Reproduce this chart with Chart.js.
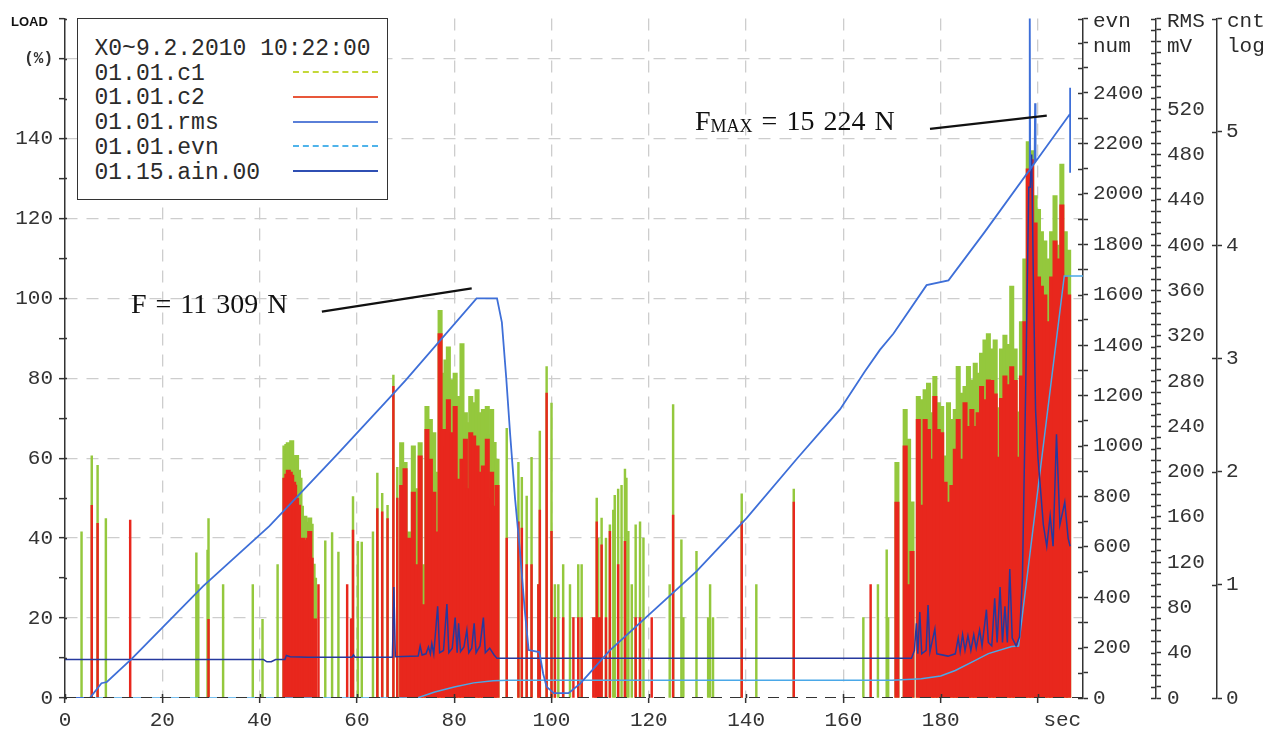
<!DOCTYPE html>
<html>
<head>
<meta charset="utf-8">
<title>LOAD / AE channels</title>
<script src="https://cdn.jsdelivr.net/npm/chart.js@4.4.1/dist/chart.umd.min.js"></script>
<style>
  html, body { margin: 0; padding: 0; background: #fff; }
  #wrap { position: relative; width: 1282px; height: 733px; }
  #wrap canvas { position: absolute; left: 0; top: 0; }
  .mono { font-family: 'Liberation Mono', 'DejaVu Sans Mono', monospace; color: #2b2b2b; }
  .serif { font-family: 'Liberation Serif', 'DejaVu Serif', serif; color: #111; }
  #legendBox { position: absolute; left: 77px; top: 18px; width: 311px; height: 182px; box-sizing: border-box;
               border: 1.5px solid #333; background: #fff; }
  .lgRow { position: absolute; left: 16.5px; font-size: 23px; line-height: 24.7px; white-space: pre; }
  .lgSample { position: absolute; left: 214.5px; width: 85px; height: 0; }
  .axTitle { position: absolute; top: 8.5px; font-size: 21px; line-height: 25px; }
  #loadTitle { position: absolute; left: 11px; top: 15px; font: bold 13px 'Liberation Sans', Arial, sans-serif; line-height: 13px; color: #111; }
  .note { position: absolute; font-size: 28px; line-height: 28px; word-spacing: 2px; white-space: pre; }
  .note sub { font-size: 18px; vertical-align: -2px; line-height: 0; }
</style>
</head>
<body>
<div id="wrap">
  <canvas id="aeChart" width="1282" height="733"></canvas>
  <div id="loadTitle">LOAD</div>
  <div class="axTitle mono" style="left:1093px">evn<br>num</div>
  <div class="axTitle mono" style="left:1167px">RMS<br>mV</div>
  <div class="axTitle mono" style="left:1227px">cnt<br>log</div>
  <div class="note serif" style="left:131px; top:290px">F = 11 309 N</div>
  <div class="note serif" style="left:695px; top:107px">F<sub>MAX</sub> = 15 224 N</div>
  <div id="legendBox"><div class="lgRow mono" style="top:18px">X0~9.2.2010 10:22:00</div></div>
</div>
<script>
// ---- axis ticks -----------------------------------------------------------
const secTicks = [0, 20, 40, 60, 80, 100, 120, 140, 160, 180, 200];
const secUnitAt = 205;      // where the "sec" unit label sits
const secMax = 209.25;
const loadMax = 170;
const evnMax = 2695;
const rmsMax = 600;
const cntMax = 6;

// ---- 01.01.c1 (green) single hits, % --------------------------------------
const c1Sec = [3.4, 5.5, 6.7, 8.4, 27.0, 27.4, 29.3, 29.5, 32.5, 38.6, 40.6, 43.7, 53.5, 54.9, 56.2, 59.2,
  60.2, 61.0, 63.3, 64.2, 65.2, 66.3, 67.5, 68.3, 90.8, 93.2, 93.9, 94.9, 95.9, 97.3, 97.6, 99.0,
  100.0, 100.7, 101.4, 102.4, 103.8, 105.5, 106.2, 109.3, 109.6, 110.3, 111.2, 112.0, 112.7, 113.0,
  113.7, 114.4, 115.1, 115.4, 115.8, 116.5, 117.3, 118.2, 118.9, 124.3, 125.0, 126.7, 127.1, 129.8,
  132.2, 132.6, 133.2, 139.1, 142.1, 149.8, 164.1, 167.1, 168.9, 169.2];
const c1Pct = [41.6, 60.6, 58.2, 44.9, 36.3, 28.4, 37.0, 44.9, 28.4, 28.4, 19.7, 33.4, 39.3, 41.4, 36.5, 50.4,
  39.2, 39.0, 41.6, 56.3, 51.2, 48.2, 80.8, 57.7, 67.5, 59.0, 55.2, 50.5, 60.2, 28.4, 66.8, 82.9,
  73.8, 28.4, 28.4, 33.4, 28.4, 33.4, 33.4, 50.0, 40.0, 45.0, 40.0, 43.3, 47.0, 50.7,
  52.3, 53.2, 57.3, 55.0, 41.7, 28.4, 43.3, 44.1, 40.0, 28.4, 73.4, 39.6, 20.1, 36.7,
  20.1, 28.4, 20.1, 51.1, 28.4, 52.3, 20.1, 28.4, 37.1, 20.1];

// ---- 01.01.c2 (red) single hits, % ----------------------------------------
const c2Sec = [5.5, 6.7, 13.4, 29.5, 52.1, 58.0, 58.8, 59.0, 59.2, 64.2, 65.2, 66.3, 67.5, 68.3, 90.8, 93.2,
  93.9, 94.9, 95.9, 97.3, 97.6, 99.0, 100.0, 100.7, 102.4, 104.5, 105.5, 106.2, 108.6, 109.0, 109.3,
  109.6, 110.0, 110.3, 111.2, 112.0, 113.7, 115.1, 117.3, 118.2, 120.6, 125.0, 139.1, 149.8, 165.6];
const c2Pct = [48.2, 43.7, 44.5, 19.7, 28.4, 28.4, 19.8, 19.8, 42.0, 47.4, 46.6, 44.9, 78.0, 50.0, 40.0, 44.1,
  42.5, 33.4, 33.4, 28.4, 47.0, 76.3, 41.7, 20.1, 20.1, 20.1, 20.1, 20.1, 20.1, 20.1, 44.1,
  20.1, 20.1, 38.3, 20.1, 41.7, 33.4, 39.2, 20.1, 20.1, 20.1, 45.8, 44.1, 49.0, 28.4];

// ---- dense bursts (c1 and c2 share the sample times), % -------------------
const burstSec = [45.2, 45.6, 45.9, 46.3, 46.6, 47.0, 47.2, 47.6, 48.0, 48.3, 48.6, 48.9, 49.3, 49.6, 50.0, 50.3, 50.6, 51.0, 51.3,
  69.2, 69.9, 70.8, 71.6, 72.3, 73.0, 73.6, 74.4, 75.1, 75.8, 76.4, 77.1, 77.8, 78.3, 78.8, 79.5, 80.2, 80.9, 81.6, 82.3,
  82.9, 83.4, 84.0, 84.7, 85.3, 86.0, 86.8, 87.2, 87.7, 88.2, 88.8,
  171.0, 172.7, 173.4, 174.1, 175.4, 176.1, 176.8, 177.5, 178.2, 178.8, 179.5, 180.2, 180.9, 181.6, 182.3, 183.0,
  183.6, 184.3, 185.0, 185.7, 186.4, 187.1, 187.7, 188.4, 189.1, 189.8, 190.5, 191.2, 191.8, 192.5, 193.2, 193.9,
  194.6, 195.3, 195.9, 196.6, 197.3, 198.0, 198.7, 199.4, 200.1, 200.7, 201.4, 202.1, 202.8, 203.5, 204.2, 204.9,
  205.6, 206.3];
const c1BurstPct = [63.1, 63.5, 63.9, 62.0, 64.4, 60.0, 58.2, 60.7, 57.0, 55.0, 48.0, 45.1, 45.5, 42.6, 44.0, 45.1, 43.5, 33.5, 30.0,
  63.9, 59.0, 41.6, 63.1, 52.4, 63.9, 33.4, 73.0, 69.7, 66.4, 56.5, 97.0, 81.3, 84.6, 87.9, 79.7, 81.3, 75.5, 88.7, 71.4,
  68.9, 75.5, 73.9, 77.2, 71.4, 72.2, 73.0, 66.0, 72.2, 64.0, 59.8,
  59.0, 72.2, 64.8, 49.1, 75.5, 74.7, 77.2, 78.8, 71.4, 80.5, 73.9, 73.0, 60.6, 73.9, 69.7, 72.2,
  83.0, 76.3, 78.0, 83.0, 79.6, 83.8, 81.3, 86.3, 89.6, 91.2, 87.4, 89.6, 72.7, 87.4, 90.8, 88.5,
  103.1, 87.4, 71.6, 94.2, 109.9, 139.2, 137.0, 125.7, 122.3, 116.7, 114.4, 109.9, 116.7, 125.7, 113.3, 133.6,
  116.7, 112.1];
const c2BurstPct = [55.0, 56.0, 57.0, 56.5, 55.8, 54.0, 53.3, 50.0, 48.3, 33.4, 38.0, 40.0, 39.5, 39.2, 40.0, 41.7, 35.0, 19.4, 19.8,
  53.2, 57.4, 40.0, 51.5, 33.4, 60.6, 23.4, 67.2, 59.8, 51.5, 41.6, 91.2, 67.2, 63.0, 74.7, 66.4, 73.0, 54.8, 59.8, 64.8,
  52.4, 66.4, 65.6, 63.1, 56.5, 58.1, 64.8, 50.0, 56.5, 48.0, 53.2,
  49.0, 63.1, 28.4, 36.7, 69.7, 48.3, 69.7, 67.2, 59.8, 75.5, 67.2, 66.4, 54.0, 49.0, 53.2, 62.3,
  69.7, 59.8, 73.9, 68.0, 72.2, 68.0, 71.4, 78.0, 74.7, 79.6, 79.5, 76.1, 60.3, 75.0, 80.6, 78.4,
  82.9, 79.5, 60.3, 80.6, 94.2, 132.4, 134.7, 118.9, 105.4, 103.1, 100.9, 94.2, 105.4, 114.4, 109.9, 123.4,
  105.4, 100.9];

// ---- 01.15.ain.00 (load ramp), % ------------------------------------------
const ainSec = [0, 5.1, 7.5, 8.6, 13.7, 28.4, 42.0, 56.0, 65.8, 70.0, 84.6, 88.8, 89.8, 90.7, 91.5,
  92.5, 93.5, 94.5, 95.3, 97.5, 98.3, 99.0, 100.5, 103.5, 105.9, 112.0, 129.8, 140.1, 150.4, 159.3,
  164.4, 167.5, 170.3, 177.1, 181.6, 189.1, 198.2, 198.3, 198.4, 199.3, 199.4, 199.5, 206.6, 206.6, 206.6];
const ainPct = [0, 0, 3.7, 4.0, 9.8, 28.0, 43.0, 61.0, 73.9, 79.5, 100.0, 100.0, 94.0, 80.0, 66.0,
  50.0, 37.0, 22.0, 12.0, 11.5, 6.0, 2.8, 1.2, 1.2, 3.6, 11.9, 31.7, 45.0, 59.8, 72.2,
  81.7, 87.1, 91.2, 103.3, 104.5, 116.7, 132.0, 175.0, 132.3, 133.9, 148.8, 134.2, 146.2, 152.7, 131.4];

// ---- 01.01.rms, mV ---------------------------------------------------------
const rmsSec = [0, 40.8, 41.5, 42.4, 43.3, 45.2, 45.5, 46.3, 50.0, 59.0,
  59.3, 59.6, 67.3, 67.6, 67.9, 72.6, 73.0, 73.4, 74.2, 74.7,
  75.1, 75.4, 75.8, 76.6, 77.0, 77.8, 78.5, 78.9, 79.6, 80.2,
  80.6, 80.9, 81.3, 82.0, 82.6, 83.0, 83.6, 84.1, 84.5, 85.3,
  86.0, 86.4, 87.3, 88.2, 88.8, 174.0, 174.6, 175.0, 175.3, 175.7,
  176.1, 177.0, 177.4, 177.8, 178.8, 179.2, 181.5, 183.0, 183.6, 184.0,
  184.5, 185.0, 185.6, 186.2, 186.8, 187.3, 188.0, 188.5, 189.4, 189.8,
  190.5, 191.1, 191.6, 192.2, 192.7, 193.2, 193.7, 194.2, 194.7, 195.5,
  196.2, 196.8, 197.5, 198.1, 198.4, 198.7, 199.1, 199.5, 200.0, 201.1,
  201.8, 202.5, 203.1, 203.8, 204.5, 205.5, 206.2, 206.6];
const rmsMv = [34, 34, 32, 32, 34, 34, 37.5, 36.5, 36, 36,
  38, 36, 36, 98, 36.5, 37, 46, 38, 39, 45,
  39, 48, 39, 81, 40, 42, 83, 40, 44, 71,
  40, 66, 41, 45, 60, 40, 44, 66, 40, 46,
  71, 40, 44, 38, 35, 35, 42, 66, 39, 76,
  39, 42, 82, 41, 61, 39, 37, 39, 53, 41,
  56, 42, 55, 42, 56, 44, 60, 46, 78, 49,
  46, 88, 49, 98, 49, 81, 49, 114, 53, 46,
  54, 106, 282, 451, 451, 480, 353, 254, 212, 153,
  134, 161, 134, 233, 153, 173, 141, 134];

// ---- 01.01.evn, cumulative events -----------------------------------------
const evnSec = [0, 72.4, 76.0, 80.0, 84.0, 88.0, 91.0, 170.0, 176.0, 180.0, 183.0, 186.5, 189.8, 194.6, 196.0, 205.4, 209.25];
const evnNum = [0, 0, 24, 44, 60, 68, 70, 70, 76, 87, 109, 143, 176, 204, 206, 1674, 1674];

// ---- zero line and the two callout leaders --------------------------------
const zeroSec = [0, 209.25];
const zeroPct = [0, 0];
const fLeaderSec = [52.8, 83.6];
const fLeaderPct = [96.7, 102.5];
const fMaxLeaderSec = [177.8, 201.8];
const fMaxLeaderPct = [142.4, 145.7];

const MONO = "'Liberation Mono', 'DejaVu Sans Mono', monospace";
const AXIS = '#333';
const GRID = '#cdcdcd';
const NONE = 'rgba(0,0,0,0)';

const pts = (xs, ys) => xs.map((x, i) => ({ x: x, y: ys[i] }));

// draws the short inner half of each tick so they cross the axis lines
const crossTicks = {
    id: 'crossTicks',
    afterDraw(chart) {
        const ctx = chart.ctx;
        ctx.save();
        ctx.strokeStyle = AXIS;
        ctx.lineWidth = 1.5;
        const inner = { y: 2, evn: 5, rms: 5, cnt: 5 };
        Object.keys(inner).forEach(id => {
            const s = chart.scales[id];
            const x0 = s.position === 'left' ? s.right : s.left;
            const dir = s.position === 'left' ? 1 : -1;
            s.ticks.forEach(t => {
                const py = Math.round(s.getPixelForValue(t.value)) + 0.5;
                ctx.beginPath();
                ctx.moveTo(x0, py);
                ctx.lineTo(x0 + dir * inner[id], py);
                ctx.stroke();
            });
        });
        const sx = chart.scales.x;
        sx.ticks.forEach(t => {
            if (t.value === secUnitAt) return;
            const px = Math.round(sx.getPixelForValue(t.value)) + 0.5;
            ctx.beginPath();
            ctx.moveTo(px, sx.top);
            ctx.lineTo(px, sx.top - 4);
            ctx.stroke();
        });
        ctx.restore();
    }
};

const tickFont = { family: MONO, size: 21 };

const chart = new Chart(document.getElementById('aeChart').getContext('2d'), {
    type: 'line',
    data: {
        datasets: [
            { type: 'line', data: pts(zeroSec, zeroPct), borderColor: AXIS, borderWidth: 2, borderDash: [11, 8], order: 0 },
            { type: 'line', data: pts(fLeaderSec, fLeaderPct), borderColor: '#111', borderWidth: 2.2, order: 0 },
            { type: 'line', data: pts(fMaxLeaderSec, fMaxLeaderPct), borderColor: '#111', borderWidth: 2.2, order: 0 },
            {
                type: 'line', label: '01.15.ain.00', data: pts(ainSec, ainPct),
                borderColor: '#3e6fd8', borderWidth: 1.8, order: 1,
                legendRow: 5, legendColor: '#2f4fb3'
            },
            {
                type: 'line', label: '01.01.rms', yAxisID: 'rms', data: pts(rmsSec, rmsMv),
                borderColor: '#25399e', borderWidth: 1.5, order: 2,
                legendRow: 3, legendColor: '#5a7fd8'
            },
            {
                type: 'line', label: '01.01.evn', yAxisID: 'evn', data: pts(evnSec, evnNum),
                borderColor: '#4aa8e8', borderWidth: 1.5, order: 3,
                legendRow: 4, legendColor: '#4fb3ea', legendDash: true
            },
            {
                type: 'bar', label: '01.01.c2', data: pts(c2Sec, c2Pct),
                backgroundColor: '#e8271d', barThickness: 1.8, grouped: false, order: 4,
                legendRow: 2, legendColor: '#e8573a'
            },
            {
                type: 'bar', label: '01.01.c2', data: pts(burstSec, c2BurstPct),
                backgroundColor: '#e8271d', barThickness: 4.4, grouped: false, order: 4
            },
            {
                type: 'bar', label: '01.01.c1', data: pts(c1Sec, c1Pct),
                backgroundColor: '#94c83d', barThickness: 1.8, grouped: false, order: 5,
                legendRow: 1, legendColor: '#c4d83a', legendDash: true
            },
            {
                type: 'bar', label: '01.01.c1', data: pts(burstSec, c1BurstPct),
                backgroundColor: '#94c83d', barThickness: 4.4, grouped: false, order: 5
            }
        ]
    },
    options: {
        responsive: false,
        animation: false,
        layout: { padding: { top: 12 } },
        elements: { point: { radius: 0 }, line: { tension: 0 } },
        plugins: { legend: { display: false }, tooltip: { enabled: false } },
        scales: {
            x: {
                type: 'linear', min: 0, max: secMax, offset: false,
                afterBuildTicks: s => { s.ticks = secTicks.concat(secUnitAt).map(v => ({ value: v })); },
                afterFit: s => { s.height = 35; },
                border: { display: false, dash: [12, 9] },
                grid: {
                    offset: false, lineWidth: 1.3, tickLength: 5, tickWidth: 1.5,
                    color: c => (c.tick && c.tick.value > 0 && c.tick.value <= 200) ? GRID : NONE,
                    tickColor: c => (c.tick && c.tick.value === secUnitAt) ? NONE : AXIS
                },
                ticks: {
                    autoSkip: false, maxRotation: 0, padding: 5, color: AXIS, font: tickFont,
                    callback: v => v === secUnitAt ? 'sec' : (v < 200 ? String(v) : '')
                }
            },
            y: {
                type: 'linear', position: 'left', min: 0, max: loadMax,
                afterFit: s => { s.width = 65; },
                border: { display: true, color: AXIS, width: 1.5, dash: [12, 9] },
                grid: {
                    lineWidth: 1.3, tickLength: 6, tickWidth: 1.5, tickColor: AXIS,
                    color: c => (c.tick && c.tick.value % 20 === 0 && c.tick.value > 0 && c.tick.value < loadMax) ? GRID : NONE
                },
                ticks: {
                    stepSize: 10, autoSkip: false, padding: 6, color: AXIS,
                    font: c => (c.tick && c.tick.value === 160) ? { family: MONO, size: 16, weight: 'bold' } : tickFont,
                    callback: v => v === 160 ? '(%)' : ((v % 20 === 0 && v <= 140) ? String(v) : '')
                }
            },
            evn: {
                type: 'linear', axis: 'y', position: 'right', weight: 1, display: true, min: 0, max: evnMax,
                afterBuildTicks: s => {
                    const t = [];
                    for (let v = 0; v <= 2600; v += 100) t.push({ value: v });
                    t.push({ value: evnMax });
                    s.ticks = t;
                },
                afterFit: s => { s.width = 73; },
                border: { display: true, color: AXIS, width: 1.5 },
                grid: { drawOnChartArea: false, tickLength: 5, tickWidth: 1.5, tickColor: AXIS },
                ticks: {
                    autoSkip: false, padding: 5, color: AXIS, font: tickFont,
                    callback: v => (v % 200 === 0 && v <= 2400) ? String(v) : ''
                }
            },
            rms: {
                type: 'linear', axis: 'y', position: 'right', weight: 2, display: true, min: 0, max: rmsMax,
                afterFit: s => { s.width = 61; },
                border: { display: true, color: AXIS, width: 1.5 },
                grid: { drawOnChartArea: false, tickLength: 5, tickWidth: 1.5, tickColor: AXIS },
                ticks: {
                    stepSize: 10, autoSkip: false, padding: 6, color: AXIS, font: tickFont,
                    callback: v => (v % 40 === 0 && v <= 520) ? String(v) : ''
                }
            },
            cnt: {
                type: 'linear', axis: 'y', position: 'right', weight: 3, display: true, min: 0, max: cntMax,
                afterFit: s => { s.width = 65; },
                border: { display: true, color: AXIS, width: 1.5 },
                grid: { drawOnChartArea: false, tickLength: 5, tickWidth: 1.5, tickColor: AXIS },
                ticks: {
                    stepSize: 1, autoSkip: false, padding: 4, color: AXIS, font: tickFont,
                    callback: v => v <= 5 ? String(v) : ''
                }
            }
        }
    },
    plugins: [crossTicks]
});

// legend box rows, built from the datasets
const legendBox = document.getElementById('legendBox');
chart.data.datasets
    .filter(d => d.legendRow !== undefined)
    .sort((a, b) => a.legendRow - b.legendRow)
    .forEach(d => {
        const row = document.createElement('div');
        row.className = 'lgRow mono';
        row.style.top = (18 + 24.7 * d.legendRow) + 'px';
        row.textContent = d.label;
        legendBox.appendChild(row);
        const sample = document.createElement('div');
        sample.className = 'lgSample';
        sample.style.top = (27.5 + 24.7 * d.legendRow) + 'px';
        sample.style.borderTop = '2px ' + (d.legendDash ? 'dashed ' : 'solid ') + d.legendColor;
        legendBox.appendChild(sample);
    });
</script>
</body>
</html>
